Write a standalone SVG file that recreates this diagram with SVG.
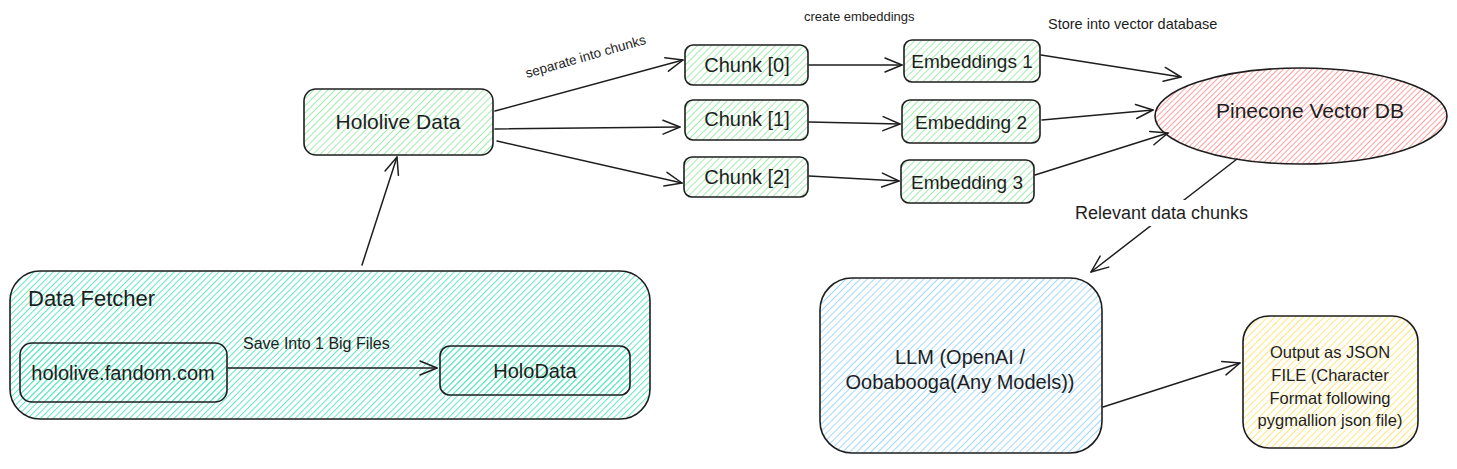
<svg xmlns="http://www.w3.org/2000/svg" width="1457" height="469" viewBox="0 0 1457 469">
<defs>
  <pattern id="hGreen" patternUnits="userSpaceOnUse" width="5" height="5" patternTransform="rotate(45)">
    <line x1="0" y1="0" x2="0" y2="5" stroke="#a3ecae" stroke-width="2"/>
  </pattern>
  <pattern id="hTeal" patternUnits="userSpaceOnUse" width="4.5" height="4.5" patternTransform="rotate(45)">
    <line x1="0" y1="0" x2="0" y2="4.5" stroke="#63e6be" stroke-width="2"/>
  </pattern>
  <pattern id="hRed" patternUnits="userSpaceOnUse" width="4" height="4" patternTransform="rotate(45)">
    <line x1="0" y1="0" x2="0" y2="4" stroke="#ff8787" stroke-width="1.6"/>
  </pattern>
  <pattern id="hBlue" patternUnits="userSpaceOnUse" width="5" height="5" patternTransform="rotate(45)">
    <line x1="0" y1="0" x2="0" y2="5" stroke="#a5d8ff" stroke-width="2"/>
  </pattern>
  <pattern id="hYellow" patternUnits="userSpaceOnUse" width="5" height="5" patternTransform="rotate(45)">
    <line x1="0" y1="0" x2="0" y2="5" stroke="#ffe680" stroke-width="2"/>
  </pattern>
  <marker id="arr" viewBox="-20 -10 24 20" refX="0" refY="0" markerWidth="24" markerHeight="20" markerUnits="userSpaceOnUse" orient="auto">
    <path d="M-17,-7 L0,0 L-17,7" fill="none" stroke="#1e1e1e" stroke-width="1.5" stroke-linecap="round" stroke-linejoin="round"/>
  </marker>
</defs>
<style>
  .box { stroke: #1e1e1e; stroke-width: 1.6; }
  .lbl { font-family: "Liberation Sans", Arial, sans-serif; font-size: 20px; fill: #1e1e1e; text-anchor: middle; }
  .small { font-family: "Liberation Sans", Arial, sans-serif; font-size: 13px; fill: #1e1e1e; }
  .mid { font-family: "Liberation Sans", Arial, sans-serif; font-size: 16.5px; fill: #1e1e1e; }
  .conn { fill: none; stroke: #1e1e1e; stroke-width: 1.5; stroke-linecap: round; marker-end: url(#arr); }
</style>
<rect width="1457" height="469" fill="#ffffff"/>

<g id="data-fetcher">
  <rect class="box" x="10" y="271" width="640" height="148" rx="30" fill="url(#hTeal)"/>
  <text class="lbl" x="28" y="306" style="text-anchor:start;font-size:22px">Data Fetcher</text>
</g>
<g id="hololive-fandom">
  <rect class="box" x="20" y="343" width="207" height="59" rx="12" fill="url(#hTeal)"/>
  <text class="lbl" x="123" y="380">hololive.fandom.com</text>
</g>
<g id="holodata">
  <rect class="box" x="440" y="346" width="190" height="49" rx="10" fill="url(#hTeal)"/>
  <text class="lbl" x="535" y="378">HoloData</text>
</g>
<g id="hololive-data">
  <rect class="box" x="304" y="89" width="189" height="66" rx="12" fill="url(#hGreen)"/>
  <text class="lbl" x="398" y="129" style="font-size:21px">Hololive Data</text>
</g>
<g id="chunk0">
  <rect class="box" x="685" y="45" width="123" height="40" rx="8" fill="url(#hGreen)"/>
  <text class="lbl" x="747" y="72">Chunk [0]</text>
</g>
<g id="chunk1">
  <rect class="box" x="685" y="100" width="123" height="40" rx="8" fill="url(#hGreen)"/>
  <text class="lbl" x="747" y="126">Chunk [1]</text>
</g>
<g id="chunk2">
  <rect class="box" x="684" y="157" width="124" height="40" rx="8" fill="url(#hGreen)"/>
  <text class="lbl" x="747" y="184">Chunk [2]</text>
</g>
<g id="embeddings1">
  <rect class="box" x="904" y="40" width="136" height="42" rx="8" fill="url(#hGreen)"/>
  <text class="lbl" x="972" y="68" style="font-size:19px">Embeddings 1</text>
</g>
<g id="embedding2">
  <rect class="box" x="902" y="100" width="138" height="43" rx="8" fill="url(#hGreen)"/>
  <text class="lbl" x="971" y="129" style="font-size:19px">Embedding 2</text>
</g>
<g id="embedding3">
  <rect class="box" x="901" y="160" width="133" height="43" rx="8" fill="url(#hGreen)"/>
  <text class="lbl" x="967" y="189" style="font-size:19px">Embedding 3</text>
</g>
<g id="pinecone">
  <ellipse class="box" cx="1301" cy="116" rx="146" ry="48" fill="url(#hRed)"/>
  <text class="lbl" x="1310" y="118" style="font-size:21px">Pinecone Vector DB</text>
</g>
<g id="llm">
  <rect class="box" x="820" y="278" width="282" height="175" rx="32" fill="url(#hBlue)"/>
  <text class="lbl" x="960" y="364">LLM (OpenAI /</text>
  <text class="lbl" x="960" y="389">Oobabooga(Any Models))</text>
</g>
<g id="output">
  <rect class="box" x="1243" y="316" width="175" height="132" rx="26" fill="url(#hYellow)"/>
  <text class="mid" x="1330" y="358" text-anchor="middle">Output as JSON</text>
  <text class="mid" x="1330" y="381" text-anchor="middle">FILE (Character</text>
  <text class="mid" x="1330" y="404" text-anchor="middle">Format following</text>
  <text class="mid" x="1330" y="426" text-anchor="middle">pygmallion json file)</text>
</g>

<g id="connectors">
  <path class="conn" d="M362,265 L397,157"/>
  <path class="conn" d="M228,368 L437,368"/>
  <path class="conn" d="M495,111 L683,60"/>
  <path class="conn" d="M495,129 L680,127"/>
  <path class="conn" d="M497,141 L682,183"/>
  <path class="conn" d="M809,65 L902,65"/>
  <path class="conn" d="M809,122 L900,124"/>
  <path class="conn" d="M809,176 L899,181"/>
  <path class="conn" d="M1041,55 L1181,77"/>
  <path class="conn" d="M1042,120 L1153,110"/>
  <path class="conn" d="M1035,175 L1168,133"/>
  <path class="conn" d="M1237,159 L1091,272"/>
  <path class="conn" d="M1103,407 L1240,363"/>
  <rect x="1070" y="200" width="185" height="26" fill="#ffffff"/>
</g>

<g id="labels">
  <text class="small" x="243" y="349" style="font-size:16px">Save Into 1 Big Files</text>
  <text class="small" x="527" y="78" transform="rotate(-16 527 78)" style="font-size:13.5px">separate into chunks</text>
  <text class="small" x="804" y="21">create embeddings</text>
  <text class="small" x="1048" y="29" style="font-size:14.5px">Store into vector database</text>
  <text class="mid" x="1075" y="219" style="font-size:18px">Relevant data chunks</text>
</g>
</svg>
